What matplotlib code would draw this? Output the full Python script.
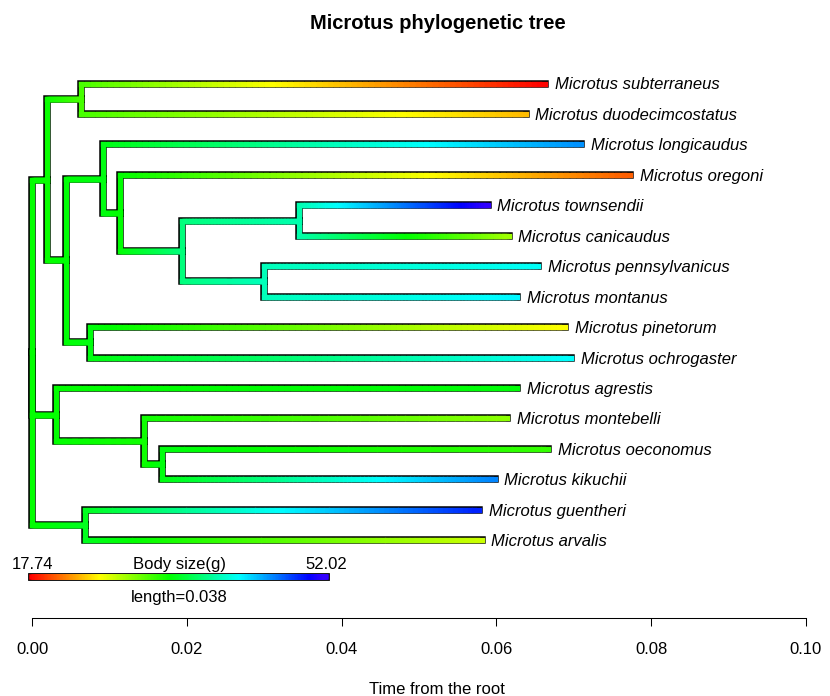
import numpy as np
import matplotlib.pyplot as plt
from matplotlib.collections import LineCollection
from matplotlib.colors import hsv_to_rgb

plt.rcParams['font.family'] = ['Liberation Sans', 'DejaVu Sans']

# tips, listed top to bottom as they are drawn
tip_names = ["Microtus subterraneus", "Microtus duodecimcostatus", "Microtus longicaudus",
             "Microtus oregoni", "Microtus townsendii", "Microtus canicaudus",
             "Microtus pennsylvanicus", "Microtus montanus", "Microtus pinetorum",
             "Microtus ochrogaster", "Microtus agrestis", "Microtus montebelli",
             "Microtus oeconomus", "Microtus kikuchii", "Microtus guentheri", "Microtus arvalis"]
tip_depth = [0.0663, 0.0638, 0.0710, 0.0773, 0.0589, 0.0616, 0.0654, 0.0627,
             0.0689, 0.0697, 0.0627, 0.0614, 0.0667, 0.0598, 0.0578, 0.0581]
tip_size = [17.74, 23.7, 45.8, 20.7, 52.02, 29.0, 42.0, 42.5,
            25.9, 42.2, 34.3, 29.6, 32.4, 46.2, 49.4, 27.6]

# internal nodes: depth from the root and reconstructed body size
node_names = ["root", "n5", "sd", "n4", "n3", "n2", "n1", "tc", "pm", "po", "ag", "mok", "ok", "ga"]
node_depth = [0.0, 0.0019, 0.0063, 0.0043, 0.0091, 0.0113, 0.0194, 0.0345, 0.0300,
              0.0074, 0.0031, 0.0145, 0.0168, 0.0068]
node_size = [34.0, 33.8, 31.8, 34.2, 34.6, 34.1, 38.0, 39.6, 40.0, 34.5, 34.0, 33.6, 34.5, 35.0]

# topology: parent -> children (ints are tip indices)
children = {
    "root": ["n5", "ag", "ga"],
    "n5": ["sd", "n4"],
    "sd": [0, 1],
    "n4": ["n3", "po"],
    "n3": [2, "n2"],
    "n2": [3, "n1"],
    "n1": ["tc", "pm"],
    "tc": [4, 5],
    "pm": [6, 7],
    "po": [8, 9],
    "ag": [10, "mok"],
    "mok": [11, "ok"],
    "ok": [12, 13],
    "ga": [14, 15],
}

size_min, size_max = 17.74, 52.02
legend_len = 0.038


def size_color(v):
    f = (np.asarray(v) - size_min) / (size_max - size_min)
    h = 0.7 * np.clip(f, 0, 1)
    return hsv_to_rgb(np.stack([h, np.ones_like(h), np.ones_like(h)], axis=-1))


def ypx(p):
    # screen row -> tree row units
    return (p - 83.5) / 30.45 + 1


xs, ys, vals = {}, {}, {}
for i in range(len(tip_names)):
    xs[i], ys[i], vals[i] = tip_depth[i], i + 1, tip_size[i]
for n, d, s in zip(node_names, node_depth, node_size):
    xs[n], vals[n] = d, s


def node_y(n):
    if n in ys:
        return ys[n]
    kids = [node_y(c) for c in children[n]]
    ys[n] = (kids[0] + kids[-1]) / 2
    return ys[n]


node_y("root")

fig = plt.figure(figsize=(8.3, 6.96), dpi=100)
ax = fig.add_axes([0, 0, 1, 1])
ax.set_xlim(-32.3 / 7735, (830 - 32.3) / 7735)
ax.set_ylim(ypx(696), ypx(0))

outline, vert, vert_c, horiz, horiz_c = [], [], [], [], []
for p, kids in children.items():
    for c in kids:
        xp, yp, xc, yc = xs[p], ys[p], xs[c], ys[c]
        outline.append([(xp, yp), (xp, yc), (xc, yc)])
        vert.append([(xp, yp), (xp, yc)])
        vert_c.append(size_color(vals[p]))
        edges = np.linspace(xp, xc, 81)
        mids = (edges[:-1] + edges[1:]) / 2
        frac = (mids - xp) / (xc - xp)
        for a, b, f in zip(edges[:-1], edges[1:], frac):
            horiz.append([(a, yc), (b, yc)])
            horiz_c.append(size_color(vals[p] + f * (vals[c] - vals[p])))

ax.add_collection(LineCollection(outline, colors='black', linewidths=5.4,
                                 capstyle='projecting', joinstyle='miter'))
ax.add_collection(LineCollection(vert, colors=vert_c, linewidths=3.8, capstyle='projecting'))
ax.add_collection(LineCollection(horiz, colors=horiz_c, linewidths=3.8, capstyle='projecting'))

for i, name in enumerate(tip_names):
    ax.annotate(name, (xs[i], ys[i]), xytext=(6.8, -4.3), textcoords='offset points',
                style='italic', fontsize=12, va='baseline', ha='left')

# colour bar legend
bar_y = ypx(577.3)
bx = np.linspace(0, legend_len, 201)
bar_segs = [[(a, bar_y), (b, bar_y)] for a, b in zip(bx[:-1], bx[1:])]
bar_cols = size_color(np.linspace(size_min, size_max, 200))
ax.add_collection(LineCollection([[(0, bar_y), (legend_len, bar_y)]], colors='black',
                                 linewidths=5.6, capstyle='projecting'))
ax.add_collection(LineCollection(bar_segs, colors=bar_cols, linewidths=4.0, capstyle='projecting'))
ax.text(0, ypx(569.3), f"{size_min:.2f}", ha='center', va='baseline', fontsize=12)
ax.text(legend_len, ypx(569.3), f"{size_max:.2f}", ha='center', va='baseline', fontsize=12)
ax.text(legend_len / 2, ypx(569.3), "Body size(g)", ha='center', va='baseline', fontsize=12)
ax.text(legend_len / 2, ypx(602.3), f"length={legend_len}", ha='center', va='baseline', fontsize=12)

# time axis
for side in ['top', 'left', 'right']:
    ax.spines[side].set_visible(False)
ax.spines['bottom'].set_position(('data', ypx(618)))
ax.spines['bottom'].set_bounds(0, 0.10)
ax.spines['bottom'].set_linewidth(0.75)
ax.set_xticks(np.arange(0, 0.101, 0.02))
ax.set_xticklabels([f"{t:.2f}" for t in np.arange(0, 0.101, 0.02)])
ax.tick_params(axis='x', direction='out', length=5.8, width=0.75, labelsize=12, pad=11.2)
ax.set_yticks([])

mid = (436.5 - 32.3) / 7735
ax.text(mid, ypx(694.5), "Time from the root", ha='center', va='baseline', fontsize=12)
ax.text(mid + 1 / 7735, ypx(29), "Microtus phylogenetic tree", ha='center', va='baseline',
        fontsize=14.5, fontweight='bold')

fig.savefig("out.png", dpi=100)
